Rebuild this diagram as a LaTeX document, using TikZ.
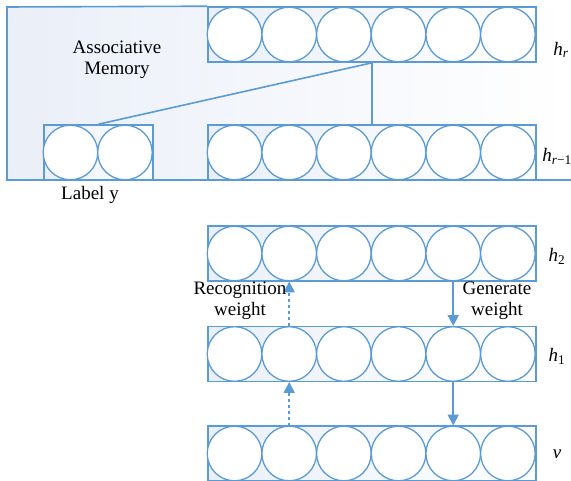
\documentclass[tikz,border=0pt]{standalone}
\usepackage{fontspec}
\setmainfont{Liberation Serif}
\usetikzlibrary{positioning,arrows.meta,calc}
\definecolor{linkblue}{RGB}{91,155,213}
\definecolor{paleblue}{RGB}{234,239,248}

\begin{document}
\begin{tikzpicture}[x=1pt,y=-1pt,
			layerbox/.style={rectangle, draw=linkblue, line width=1.6pt, left color=paleblue, right color=white, minimum width=328pt, minimum height=55pt, inner sep=0pt},
			unitnode/.style={circle, draw=linkblue, line width=1.3pt, fill=white, minimum size=54.6pt, inner sep=0pt},
			weightarrow/.style={draw=linkblue, line width=1.8pt, -{Triangle[width=11pt,length=11pt]}},
			txt/.style={font=\fontsize{19}{23}\selectfont, align=center},
		]
		\useasboundingbox (0,0) rectangle (571,481);

			%Associative memory area
			\shade[left color=paleblue, right color=white] (7,7) rectangle (571,180);

			%Layers
			\node[layerbox]		(hr)	at (372,34.5)	{};
			\node[layerbox]		(hrm)	at (372,152.5)	{};
			\node[layerbox, minimum width=109pt]	(ly)	at (98.5,152.5)	{};
			\node[layerbox]		(h2)	at (372,253.5)	{};
			\node[layerbox]		(h1)	at (372,354)	{};
			\node[layerbox]		(v)	at (372,453.5)	{};

			%Units
			\foreach \l in {hr,hrm,h2,h1,v}
				\foreach \i in {1,...,6}
					\node[unitnode]	(\l-\i)	at ($(\l.west)+(54.67*\i-27.33,0)$)	{};
			\foreach \i in {1,2}
				\node[unitnode]	(ly-\i)	at ($(ly.west)+(54.5*\i-27.25,0)$)	{};

			%Lines
			\draw[linkblue, line width=1.6pt]	(hr.north west) -- (7,7) -- (7,180) -- (571,180);
			\draw[linkblue, line width=1.6pt]	(hr.south) -- (hrm.north);
			\draw[linkblue, line width=1.6pt]	(hr.south) -- (ly.north);
			\draw[weightarrow, dash pattern=on 3pt off 3pt]	(v-2.north) -- (h1-2.south);
			\draw[weightarrow, dash pattern=on 3pt off 3pt]	(h1-2.north) -- (h2-2.south);
			\draw[weightarrow]	(h2-5.south) -- (h1-5.north);
			\draw[weightarrow]	(h1-5.south) -- (v-5.north);

			%Labels
			\node[txt]	(am)	at (117,60)		{Associative\\[-2pt]Memory};
			\node[txt]	(lyt)	at (90,195)		{Label y};
			\node[txt]	(rw)	at (240,301)	{Recognition\\[-2pt]weight};
			\node[txt]	(gw)	at (497,301)	{Generate\\[-2pt]weight};
			\node[txt]	(lhr)	at (561,50)		{\textit{h}\textsubscript{\textit{r}}};
			\node[txt]	(lhrm)	at (557,156)	{\textit{h}\textsubscript{\textit{r}−1}};
			\node[txt]	(lh2)	at (557,256)	{\textit{h}\textsubscript{2}};
			\node[txt]	(lh1)	at (557,356)	{\textit{h}\textsubscript{1}};
			\node[txt]	(lv)	at (557,454)	{\textit{v}};

		\end{tikzpicture}
\end{document}
